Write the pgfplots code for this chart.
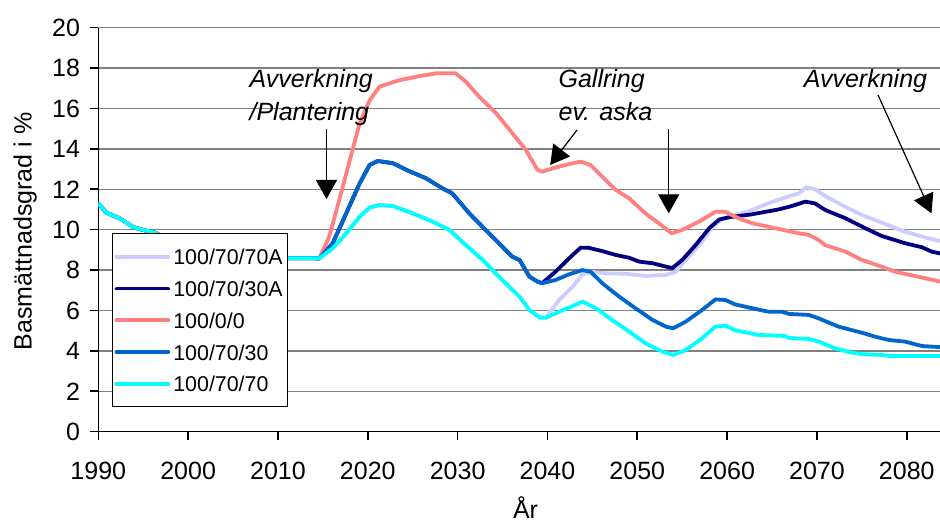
\documentclass[border=0pt]{standalone}
\usepackage{pgfplots}
\pgfplotsset{compat=1.18}
\usepackage{fontspec}
\setmainfont{Liberation Sans}
\usetikzlibrary{arrows.meta}
\definecolor{lav}{RGB}{204,204,255}
\definecolor{navyb}{RGB}{0,0,128}
\definecolor{salmon}{RGB}{255,128,128}
\definecolor{midblue}{RGB}{0,102,204}
\definecolor{cyanb}{RGB}{0,255,255}
\definecolor{gridgray}{RGB}{128,128,128}
\begin{document}
\begin{tikzpicture}
\begin{axis}[
  at={(0,0)}, anchor=south west,
  scale only axis, width=420.85pt, height=202pt,
  xmin=1990, xmax=2083.7, ymin=0, ymax=20,
  xtick={1990,2000,...,2080}, ytick={0,2,...,20},
  axis x line*=bottom, axis y line*=left,
  axis line style={black, line width=0.8pt, -},
  tick align=outside, major tick length=4.15pt,
  tick style={black, line width=0.8pt},
  ymajorgrids, grid style={gridgray, line width=0.75pt},
  scaled x ticks=false,
  /pgf/number format/1000 sep={},
  /pgf/number format/assume math mode=true,
  ticklabel style={font=\fontsize{12.5}{15}\selectfont},
  xticklabel style={yshift=-7.5pt},
  yticklabel style={xshift=-1.5pt},
  every axis plot/.append style={line width=1.9pt, line join=round, line cap=round},
  legend style={at={(rel axis cs:0.01628,0.4911)}, anchor=north west,
    draw=black, line width=0.5pt, fill=white,
    font=\fontsize{10.7}{12}\selectfont,
    inner xsep=1pt, inner ysep=3.56pt, row sep=0pt,
    nodes={inner sep=1.5pt, text height=10.44pt, text depth=2.44pt}},
  legend cell align=left,
  legend image code/.code={\draw[#1] (0pt,0pt) -- (26pt,0pt);},
]
% 100/70/70A
\addplot[lav] coordinates {
(1990,11.3)(1990.9,10.84)(1992.4,10.56)(1993.2,10.32)(1993.9,10.12)(1995.0,9.99)(1996.3,9.85)
(1998,9.5)(2000,9.2)(2003,8.9)(2006,8.7)(2008,8.6)(2014.6,8.58)
(2016.1,9.08)(2017.6,9.82)(2019.1,10.64)(2020.2,11.1)(2021.3,11.22)(2022.8,11.17)(2025.0,10.81)
(2027.2,10.4)(2029.1,9.99)(2030.9,9.24)(2032.8,8.5)(2034.6,7.67)(2036.9,6.68)(2038.0,6.02)
(2039.1,5.66)(2039.8,5.64)
(2041.3,6.52)(2042.8,7.18)(2043.9,7.79)(2044.8,7.92)(2046.5,7.84)(2048.7,7.82)(2050.9,7.71)
(2053.2,7.76)(2054.3,7.92)(2055.4,8.5)(2056.9,9.24)(2058.4,10.15)(2059.5,10.56)(2061.3,10.76)
(2062.8,10.98)(2064.6,11.31)(2066.5,11.6)(2068.0,11.8)(2068.8,12.1)(2069.8,12.0)(2070.9,11.67)
(2072.8,11.22)(2075.0,10.73)(2077.2,10.35)(2079.8,9.9)(2082.0,9.62)(2084,9.4)
};
\addlegendentry{100/70/70A}
% 100/70/30A
\addplot[navyb] coordinates {
(1990,11.3)(1990.9,10.84)(1992.4,10.56)(1993.2,10.32)(1993.9,10.12)(1995.0,9.99)(1996.3,9.85)
(1998,9.5)(2000,9.2)(2003,8.9)(2006,8.7)(2008,8.6)(2014.6,8.58)
(2016.1,9.33)(2017.6,10.81)(2019.1,12.3)(2020.2,13.2)(2021.1,13.4)(2022.8,13.29)(2024.3,12.96)
(2026.5,12.54)(2028.3,12.05)(2029.4,11.8)(2031.3,10.81)(2033.5,9.82)(2036.1,8.66)(2036.9,8.5)
(2038.0,7.67)(2038.9,7.43)(2039.4,7.35)
(2040.9,7.92)(2042.4,8.58)(2043.7,9.11)(2044.5,9.11)(2046.1,8.94)(2047.6,8.75)(2049.1,8.61)
(2050.2,8.42)(2051.7,8.34)(2053.2,8.17)(2053.9,8.1)(2055.0,8.5)(2056.5,9.24)(2058.0,10.07)
(2059.1,10.5)(2060.4,10.63)(2062.6,10.75)(2065.7,11.0)(2067.2,11.17)(2068.7,11.39)(2069.8,11.3)
(2070.9,10.98)(2073.2,10.56)(2075.4,10.07)(2077.2,9.69)(2079.8,9.33)(2081.7,9.13)(2082.8,8.91)(2084,8.8)
};
\addlegendentry{100/70/30A}
% 100/0/0
\addplot[salmon] coordinates {
(1990,11.3)(1990.9,10.84)(1992.4,10.56)(1993.2,10.32)(1993.9,10.12)(1995.0,9.99)(1996.3,9.85)
(1998,9.5)(2000,9.2)(2003,8.9)(2006,8.7)(2008,8.6)(2014.6,8.58)
(2015.7,9.65)(2016.9,11.6)(2018.0,13.45)(2019.1,15.27)(2020.2,16.4)(2021.3,17.08)(2023.5,17.4)
(2025.7,17.6)(2027.6,17.74)(2029.8,17.74)(2030.9,17.33)(2032.4,16.58)(2034.3,15.76)(2036.1,14.77)
(2037.6,13.95)(2038.3,13.4)(2038.9,12.96)(2039.4,12.87)(2040.6,13.04)(2042.4,13.25)(2043.7,13.37)
(2044.8,13.2)(2046.1,12.62)(2047.6,11.97)(2049.1,11.55)(2050.9,10.81)(2052.4,10.32)(2053.8,9.82)
(2055.0,9.99)(2056.1,10.23)(2057.2,10.48)(2058.7,10.89)(2059.8,10.89)(2061.3,10.56)(2062.8,10.32)
(2065.4,10.07)(2068.0,9.82)(2069.1,9.74)(2070.2,9.49)(2070.9,9.24)(2073.2,8.91)(2075.0,8.5)
(2077.2,8.17)(2078.7,7.92)(2081.3,7.67)(2084,7.4)
};
\addlegendentry{100/0/0}
% 100/70/30
\addplot[midblue] coordinates {
(1990,11.3)(1990.9,10.84)(1992.4,10.56)(1993.2,10.32)(1993.9,10.12)(1995.0,9.99)(1996.3,9.85)
(1998,9.5)(2000,9.2)(2003,8.9)(2006,8.7)(2008,8.6)(2014.6,8.58)
(2016.1,9.33)(2017.6,10.81)(2019.1,12.3)(2020.2,13.2)(2021.1,13.4)(2022.8,13.29)(2024.3,12.96)
(2026.5,12.54)(2028.3,12.05)(2029.4,11.8)(2031.3,10.81)(2033.5,9.82)(2036.1,8.66)(2036.9,8.5)
(2038.0,7.67)(2038.9,7.43)(2039.4,7.35)
(2040.9,7.51)(2042.4,7.79)(2043.9,8.0)(2044.8,7.92)(2046.1,7.35)(2048.0,6.68)(2049.8,6.11)
(2051.7,5.53)(2053.2,5.2)(2054.0,5.12)(2055.4,5.45)(2057.2,6.02)(2058.7,6.55)(2059.8,6.52)
(2060.9,6.3)(2062.8,6.11)(2064.6,5.94)(2066.1,5.94)(2066.9,5.83)(2069.1,5.78)(2070.2,5.61)
(2072.4,5.2)(2075.0,4.9)(2076.5,4.7)(2078.0,4.54)(2079.8,4.46)(2081.7,4.24)(2084,4.18)
};
\addlegendentry{100/70/30}
% 100/70/70
\addplot[cyanb] coordinates {
(1990,11.3)(1990.9,10.84)(1992.4,10.56)(1993.2,10.32)(1993.9,10.12)(1995.0,9.99)(1996.3,9.85)
(1998,9.5)(2000,9.2)(2003,8.9)(2006,8.7)(2008,8.6)(2014.6,8.58)
(2016.1,9.08)(2017.6,9.82)(2019.1,10.64)(2020.2,11.1)(2021.3,11.22)(2022.8,11.17)(2025.0,10.81)
(2027.2,10.4)(2029.1,9.99)(2030.9,9.24)(2032.8,8.5)(2034.6,7.67)(2036.9,6.68)(2038.0,6.02)
(2039.1,5.66)(2039.8,5.64)
(2041.3,5.94)(2042.8,6.22)(2043.9,6.44)(2045.4,6.11)(2047.2,5.53)(2049.1,4.95)(2050.9,4.38)
(2052.8,3.96)(2054.0,3.8)(2055.4,4.04)(2057.2,4.62)(2058.7,5.2)(2059.8,5.25)(2060.9,5.02)
(2063.5,4.79)(2066.4,4.74)(2066.9,4.64)(2069.1,4.59)(2070.2,4.46)(2072.0,4.13)(2073.9,3.91)
(2075.0,3.84)(2077.2,3.8)(2078.0,3.75)(2084,3.75)
};
\addlegendentry{100/70/70}
% annotations
\begin{scope}[font=\fontsize{12.5}{15}\selectfont\itshape]
\node[anchor=base west, inner sep=0pt] at (axis cs:2006.8,17.05) {Avverkning};
\node[anchor=base west, inner sep=0pt] at (axis cs:2006.8,15.4) {/Plantering};
\node[anchor=base west, inner sep=0pt] at (axis cs:2041.2,17.05) {Gallring};
\node[anchor=base west, inner sep=0pt] at (axis cs:2041.2,15.4) {ev. aska};
\node[anchor=base west, inner sep=0pt] at (axis cs:2068.5,17.05) {Avverkning};
\end{scope}
\begin{scope}[line width=0.6pt, -{Triangle[length=9.5pt, width=10.5pt]}]
\draw (axis cs:2015.4,14.99) -- (axis cs:2015.4,11.52);
\draw (axis cs:2043.3,14.94) -- (axis cs:2040.3,13.2);
\draw (axis cs:2053.5,14.97) -- (axis cs:2053.5,10.81);
\draw (axis cs:2076.8,16.67) -- (axis cs:2082.75,10.81);
\end{scope}
\end{axis}
\node[rotate=90, anchor=base, font=\fontsize{12.5}{15}\selectfont] at (-33.3pt,100.1pt) {Basmättnadsgrad i \%};
\node[anchor=base, inner sep=0pt, text depth=0pt, font=\fontsize{12.5}{15}\selectfont] at (213.6pt,-43.3pt) {År};
\pgfresetboundingbox
\path[use as bounding box] (-49.15pt,-45.15pt) rectangle (420.85pt,215.85pt);
\end{tikzpicture}
\end{document}
